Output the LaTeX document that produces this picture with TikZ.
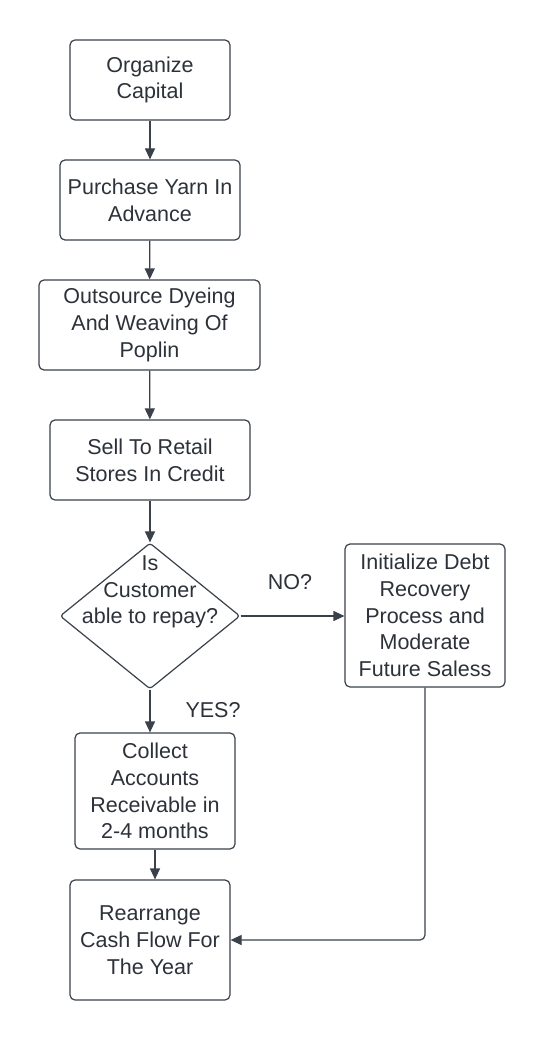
\documentclass[tikz,border=0pt]{standalone}
\usepackage{fontspec}
\setmainfont{Liberation Sans}
\usetikzlibrary{shapes.geometric,arrows.meta}
\definecolor{linec}{RGB}{58,65,74}
\definecolor{textc}{RGB}{45,50,58}
\begin{document}
\begin{tikzpicture}[x=1pt,y=-1pt,
  box/.style={draw=linec,line width=1.2pt,rounded corners=5pt,inner sep=0pt,align=center,text=textc,font=\fontsize{21.5}{26.7}\selectfont},
  dia/.style={draw=linec,line width=1.2pt,diamond,inner sep=0pt,rounded corners=3pt},
  lbl/.style={text=textc,inner sep=0pt,font=\fontsize{21.5}{26.7}\selectfont,align=center},
  arr/.style={draw=linec,line width=1.2pt,-{Triangle[length=11pt,width=10pt]},rounded corners=5pt}]
\useasboundingbox[fill=white] (0,0) rectangle (545,1040);
\node[box,minimum width=160pt,minimum height=80pt] (b1) at (150,80) {Organize\\Capital};
\node[box,minimum width=180pt,minimum height=80pt] (b2) at (150,200) {Purchase Yarn In\\Advance};
\node[box,minimum width=221pt,minimum height=90pt] (b3) at (149.5,325) {Outsource Dyeing\\And Weaving Of\\Poplin};
\node[box,minimum width=200pt,minimum height=80pt] (b4) at (150,460) {Sell To Retail\\Stores In Credit};
\node[dia,minimum width=180pt,minimum height=146pt] (d) at (150,616) {};
\node[lbl] (dt) at (150,592) {Is\\Customer\\able to repay?};
\node[box,minimum width=160pt,minimum height=143pt] (r) at (425,615.5) {Initialize Debt\\Recovery\\Process and\\Moderate\\Future Saless};
\node[box,minimum width=160pt,minimum height=116pt] (c) at (155,791) {Collect\\Accounts\\Receivable in\\2-4 months};
\node[box,minimum width=160pt,minimum height=120pt] (re) at (150,940) {Rearrange\\Cash Flow For\\The Year};
\node[lbl] (no) at (290,582) {NO?};
\node[lbl] (yes) at (213,710) {YES?};
\draw[arr] (b1) -- (b2);
\draw[arr] (b2) -- (b3);
\draw[arr] (b3) -- (b4);
\draw[arr] (b4) -- (d);
\draw[arr] (d.east) -- (d.east -| r.west);
\draw[arr] (d.south) -- (d.south |- c.north);
\draw[arr] (c.south) -- (c.south |- re.north);
\draw[arr] (r.south) |- (re.east);
\end{tikzpicture}
\end{document}
